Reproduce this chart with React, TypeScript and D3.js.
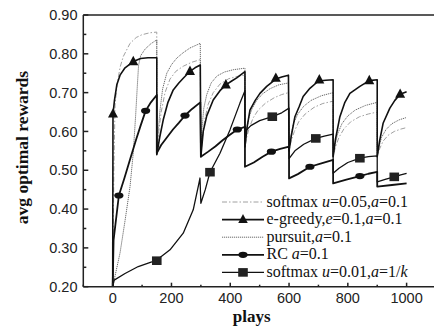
import React from 'react';
import * as d3 from 'd3';

const width = 434;
const height = 326;

// [plays, avg optimal reward]; the task switches every 150 plays, hence the drops
const softmax05 = [
  [0, 0.2], [4, 0.5], [8, 0.668], [15, 0.72], [25, 0.765], [36, 0.793], [59, 0.827], [80, 0.842], [99, 0.849], [125, 0.854], [150, 0.856],
  [150, 0.54], [157, 0.6], [165, 0.65], [178, 0.7], [195, 0.735], [215, 0.755], [240, 0.768], [268, 0.778], [298, 0.785],
  [300, 0.535], [305, 0.58], [313, 0.63], [325, 0.67], [342, 0.7], [365, 0.722], [395, 0.736], [425, 0.742], [450, 0.745],
  [450, 0.56], [456, 0.585], [465, 0.61], [478, 0.635], [495, 0.655], [520, 0.673], [550, 0.687], [575, 0.695], [598, 0.7],
  [600, 0.55], [607, 0.575], [618, 0.6], [633, 0.625], [655, 0.645], [685, 0.662], [715, 0.672], [750, 0.678],
  [750, 0.535], [758, 0.56], [770, 0.585], [787, 0.607], [810, 0.625], [840, 0.638], [870, 0.645], [900, 0.65],
  [900, 0.535], [908, 0.555], [920, 0.575], [937, 0.59], [958, 0.6], [980, 0.606], [1000, 0.61],
];

const eGreedy = [
  [0, 0.2], [1, 0.645], [6, 0.68], [14, 0.72], [25, 0.745], [42, 0.764], [70, 0.78], [95, 0.788], [120, 0.79], [150, 0.79],
  [150, 0.54], [160, 0.585], [172, 0.63], [188, 0.675], [206, 0.707], [225, 0.725], [240, 0.737], [263, 0.755], [280, 0.764], [298, 0.771],
  [300, 0.535], [308, 0.6], [320, 0.64], [342, 0.681], [365, 0.705], [385, 0.72], [405, 0.73], [422, 0.738], [450, 0.754],
  [450, 0.56], [457, 0.61], [467, 0.655], [485, 0.68], [501, 0.698], [524, 0.716], [555, 0.735], [575, 0.74], [598, 0.745],
  [600, 0.55], [608, 0.59], [620, 0.638], [635, 0.665], [648, 0.69], [671, 0.711], [700, 0.73], [725, 0.732], [750, 0.733],
  [750, 0.535], [758, 0.58], [773, 0.638], [790, 0.675], [807, 0.698], [841, 0.716], [873, 0.731], [900, 0.733],
  [900, 0.535], [908, 0.575], [920, 0.621], [943, 0.66], [960, 0.68], [978, 0.696], [1000, 0.702],
];

const pursuit = [
  [0, 0.2], [25, 0.287], [42, 0.37], [59, 0.458], [70, 0.545], [78, 0.64], [84, 0.72], [88, 0.77], [95, 0.795], [110, 0.812], [130, 0.826], [150, 0.836],
  [150, 0.54], [155, 0.6], [161, 0.655], [170, 0.71], [184, 0.75], [200, 0.772], [218, 0.789], [240, 0.803], [263, 0.815], [298, 0.827],
  [300, 0.535], [303, 0.6], [310, 0.66], [320, 0.695], [335, 0.725], [355, 0.743], [380, 0.753], [410, 0.759], [450, 0.763],
  [450, 0.56], [455, 0.6], [463, 0.635], [475, 0.66], [490, 0.68], [510, 0.697], [535, 0.71], [565, 0.72], [598, 0.725],
  [600, 0.55], [605, 0.585], [615, 0.62], [630, 0.645], [650, 0.665], [675, 0.68], [710, 0.692], [750, 0.7],
  [750, 0.535], [756, 0.565], [766, 0.595], [780, 0.62], [800, 0.64], [825, 0.655], [860, 0.667], [900, 0.675],
  [900, 0.535], [906, 0.56], [915, 0.585], [930, 0.605], [950, 0.62], [975, 0.63], [1000, 0.636],
];

const rc = [
  [0, 0.2], [3, 0.32], [21, 0.435], [40, 0.48], [60, 0.53], [80, 0.58], [95, 0.615], [112, 0.653], [130, 0.675], [150, 0.694],
  [150, 0.544], [165, 0.565], [185, 0.585], [205, 0.605], [225, 0.622], [246, 0.641], [270, 0.658], [298, 0.675],
  [300, 0.535], [325, 0.548], [350, 0.562], [375, 0.578], [400, 0.592], [424, 0.605], [450, 0.612],
  [450, 0.509], [480, 0.52], [510, 0.535], [540, 0.548], [570, 0.555], [600, 0.561],
  [600, 0.479], [630, 0.49], [671, 0.509], [710, 0.518], [750, 0.527],
  [750, 0.466], [795, 0.476], [841, 0.485], [870, 0.491], [900, 0.496],
  [900, 0.458], [950, 0.462], [1000, 0.466],
];

const softmax01 = [
  [0, 0.2], [5, 0.217], [42, 0.234], [87, 0.252], [133, 0.264], [150, 0.269], [195, 0.295], [240, 0.338], [274, 0.398], [291, 0.458], [297, 0.48],
  [300, 0.415], [315, 0.45], [331, 0.495], [365, 0.544], [399, 0.604], [433, 0.673], [450, 0.705],
  [450, 0.6], [470, 0.615], [500, 0.628], [543, 0.638], [575, 0.648], [600, 0.66],
  [600, 0.53], [620, 0.55], [650, 0.567], [691, 0.582], [720, 0.588], [750, 0.593],
  [750, 0.492], [770, 0.505], [800, 0.52], [841, 0.531], [870, 0.535], [900, 0.537],
  [900, 0.47], [930, 0.477], [958, 0.483], [980, 0.488], [1000, 0.492],
];

const eGreedyMarks = [[1, 0.645], [70, 0.78], [263, 0.755], [385, 0.72], [555, 0.737], [703, 0.733], [873, 0.731], [978, 0.696]];
const rcMarks = [[21, 0.435], [112, 0.653], [246, 0.641], [424, 0.605], [540, 0.548], [671, 0.509], [841, 0.485]];
const softmax01Marks = [[150, 0.267], [331, 0.495], [543, 0.638], [691, 0.582], [841, 0.531], [958, 0.483]];

const yTicks = [0.2, 0.3, 0.4, 0.5, 0.6, 0.7, 0.8, 0.9];
const yMinor = [0.25, 0.35, 0.45, 0.55, 0.65, 0.75, 0.85];
const xTicks = [0, 200, 400, 600, 800, 1000];
const xMinor = [-100, 100, 300, 500, 700, 900];

// legend text pieces: [text, italic]
const legendRows = [
  { key: 'sm05', parts: [['softmax ', false], ['u', true], ['=0.05,', false], ['a', true], ['=0.1', false]] },
  { key: 'eg', parts: [['e-greedy,', false], ['e', true], ['=0.1,', false], ['a', true], ['=0.1', false]] },
  { key: 'pu', parts: [['pursuit,', false], ['a', true], ['=0.1', false]] },
  { key: 'rc', parts: [['RC ', false], ['a', true], ['=0.1', false]] },
  { key: 'sm01', parts: [['softmax ', false], ['u', true], ['=0.01,', false], ['a', true], ['=1/', false], ['k', true]] },
];

const styles = {
  sm05: { stroke: '#a0a0a0', width: 1, dash: '5,2,1.5,2' },
  eg: { stroke: '#111', width: 1.6, dash: null },
  pu: { stroke: '#6a6a6a', width: 1, dash: '1.2,0.8' },
  rc: { stroke: '#111', width: 1.8, dash: null },
  sm01: { stroke: '#111', width: 1.3, dash: null },
};

const left = 83.3;
const top = 15;
const bottom = 286.7;
const right = 436;

const xScale = d3.scaleLinear().domain([-100, 1100]).range([left, right]);
const yScale = d3.scaleLinear().domain([0.2, 0.9]).range([bottom, top]);

const line = d3.line<number[]>().x(d => xScale(d[0])).y(d => yScale(d[1]));

const Triangle = ({ x, y, s = 10 }) => (
  <path d={`M${x},${y - s * 0.58} L${x + s / 2},${y + s * 0.36} L${x - s / 2},${y + s * 0.36} Z`} fill="#111" />
);
const Dot = ({ x, y }) => <ellipse cx={x} cy={y} rx={4.6} ry={3.1} fill="#111" />;
const Square = ({ x, y }) => <rect x={x - 4.8} y={y - 4.3} width={9.6} height={8.6} fill="#222" />;

const seriesList = [
  { key: 'sm05', data: softmax05 },
  { key: 'pu', data: pursuit },
  { key: 'sm01', data: softmax01 },
  { key: 'rc', data: rc },
  { key: 'eg', data: eGreedy },
];

export default function App() {
  const fmt = d3.format('.2f');
  const legendX = 266.5;
  const legendBase = 206.5;
  const legendStep = 17.6;

  return (
    <svg width={width} height={height} style={{ position: 'absolute', left: 0, top: 0, background: '#fff' }}>
      <defs>
        <clipPath id="plot">
          <rect x={left} y={top} width={right - left} height={bottom - top} />
        </clipPath>
      </defs>

      {/* series */}
      <g clipPath="url(#plot)" fill="none">
        {seriesList.map(s => (
          <path
            key={s.key}
            d={line(s.data)}
            stroke={styles[s.key].stroke}
            strokeWidth={styles[s.key].width}
            strokeDasharray={styles[s.key].dash || undefined}
            strokeLinejoin="round"
          />
        ))}
      </g>
      {eGreedyMarks.map((d, i) => <Triangle key={i} x={xScale(d[0])} y={yScale(d[1])} />)}
      {rcMarks.map((d, i) => <Dot key={i} x={xScale(d[0])} y={yScale(d[1])} />)}
      {softmax01Marks.map((d, i) => <Square key={i} x={xScale(d[0])} y={yScale(d[1])} />)}

      {/* frame */}
      <g stroke="#222" strokeWidth={1.5} fill="none">
        <line x1={left} y1={top} x2={left} y2={bottom} />
        <line x1={left} y1={bottom} x2={width} y2={bottom} />
        <line x1={left} y1={top} x2={width} y2={top} />
        {yTicks.map(t => <line key={t} x1={left} x2={left + 5} y1={yScale(t)} y2={yScale(t)} />)}
        {yMinor.map(t => <line key={t} x1={left} x2={left + 3} y1={yScale(t)} y2={yScale(t)} />)}
        {xTicks.map(t => <line key={t} x1={xScale(t)} x2={xScale(t)} y1={bottom} y2={bottom - 4} />)}
        {xMinor.map(t => <line key={t} x1={xScale(t)} x2={xScale(t)} y1={bottom} y2={bottom - 2} />)}
      </g>

      {/* tick labels */}
      <g fontFamily="'Liberation Sans', Arial, sans-serif" fontSize={14.5} fill="#222">
        {yTicks.map(t => (
          <text key={t} x={77.5} y={yScale(t)} dy="0.36em" textAnchor="end">{fmt(t)}</text>
        ))}
        {xTicks.map(t => (
          <text key={t} x={xScale(t)} y={303} textAnchor="middle">{t}</text>
        ))}
      </g>

      {/* axis titles */}
      <g fontFamily="'Liberation Serif', 'Times New Roman', serif" fontWeight="bold" fill="#111">
        <text fontSize={17.5} transform="translate(28,147.5) rotate(-90)" textAnchor="middle">avg optimal rewards</text>
        <text fontSize={17} x={251.7} y={321.5} textAnchor="middle">plays</text>
      </g>

      {/* legend */}
      <g fontFamily="'Liberation Serif', 'Times New Roman', serif" fontSize={16} fill="#111">
        {legendRows.map((row, i) => {
          const base = legendBase + i * legendStep;
          const ly = base - 4.5;
          const st = styles[row.key];
          return (
            <g key={row.key}>
              <line x1={222} x2={264} y1={ly} y2={ly} stroke={st.stroke} strokeWidth={st.width} strokeDasharray={st.dash || undefined} />
              {row.key === 'eg' && <Triangle x={243} y={ly} s={9.5} />}
              {row.key === 'rc' && <Dot x={243} y={ly} />}
              {row.key === 'sm01' && <Square x={243} y={ly} />}
              <text x={legendX} y={base}>
                {row.parts.map((p, j) => (
                  <tspan key={j} fontStyle={p[1] ? 'italic' : 'normal'}>{p[0]}</tspan>
                ))}
              </text>
            </g>
          );
        })}
      </g>
    </svg>
  );
}
